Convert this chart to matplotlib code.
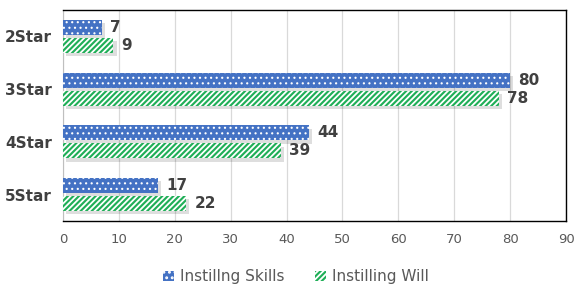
import matplotlib
matplotlib.use('Agg')
import matplotlib.pyplot as plt
from matplotlib.patches import Patch
import numpy as np

categories = ['2Star', '3Star', '4Star', '5Star']
skills = [7, 80, 44, 17]
will = [9, 78, 39, 22]
series_names = ['Instillng Skills', 'Instilling Will']

BLUE = '#4472c4'; GREEN = '#1fae57'; INK = '#404040'; MUTE = '#595959'; GRID = '#d9d9d9'
plt.rcParams['font.family'] = ['DejaVu Sans']

fig = plt.figure(figsize=(5.77, 2.87), dpi=100)
ax = fig.add_axes([0.1092, 0.23, 0.981 - 0.1092, 0.965 - 0.23])

y = np.arange(len(categories))
h = 0.285; off = 0.17

# soft drop shadows
for dy, vals in ((-off, skills), (off, will)):
    ax.barh(y + dy + 0.06, vals, height=h, left=0.6, color='#000000', alpha=0.13, zorder=2, linewidth=0)

plt.rcParams['hatch.linewidth'] = 0.8
b1 = ax.barh(y - off, skills, height=h, color=BLUE, edgecolor='white', hatch='...', linewidth=0, zorder=3)
p1 = Patch(facecolor=BLUE, edgecolor='white', hatch='...', linewidth=0)
plt.rcParams['hatch.linewidth'] = 1.3
b2 = ax.barh(y + off, will, height=h, color=GREEN, edgecolor='white', hatch='//////', linewidth=0, zorder=3)
p2 = Patch(facecolor=GREEN, edgecolor='white', hatch='//////', linewidth=0)

for bars, vals in ((b1, skills), (b2, will)):
    for b, v in zip(bars, vals):
        ax.annotate(str(v), (v, b.get_y() + b.get_height() / 2), xytext=(6, 0), textcoords='offset points',
                    va='center', ha='left', fontsize=11, fontweight='bold', color=INK)

ax.set_xlim(0, 90)
ax.set_ylim(3.5, -0.5)
ax.set_xticks(range(0, 91, 10))
ax.set_yticks(y)
ax.set_yticklabels(categories, fontsize=11, fontweight='bold', color=INK)
ax.tick_params(axis='x', colors=MUTE, labelsize=9.5, length=0, pad=9)
ax.tick_params(axis='y', length=0, pad=8)
ax.grid(axis='x', color=GRID, linewidth=0.9, zorder=0)
ax.set_axisbelow(True)
for s in ['top', 'right', 'bottom']:
    ax.spines[s].set_color('black'); ax.spines[s].set_linewidth(1.0)
ax.spines['left'].set_color('#bfbfbf')

fig.legend([p1, p2], series_names, loc='center', bbox_to_anchor=(0.513, 0.035), ncol=2, frameon=False,
           fontsize=11, labelcolor=MUTE, handlelength=0.7, handleheight=0.7, columnspacing=2.0, handletextpad=0.4)

plt.savefig('out.png', dpi=100)
